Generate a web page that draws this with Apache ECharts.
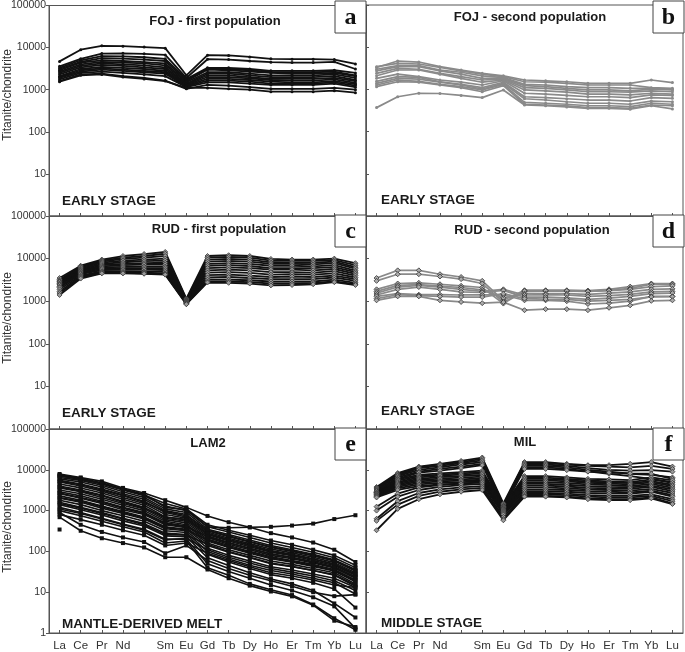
<!DOCTYPE html>
<html>
<head>
<meta charset="utf-8">
<script src="https://cdn.jsdelivr.net/npm/echarts@6/dist/echarts.min.js"></script>
<style>html,body{margin:0;padding:0;background:#fff}#c{width:685px;height:652px}</style>
</head>
<body>
<div id="c"></div>
<script>
const categories = ['La','Ce','Pr','Nd','','Sm','Eu','Gd','Tb','Dy','Ho','Er','Tm','Yb','Lu'];
const yTicks = [1,10,100,1000,10000,100000];

const panelTitles = ['FOJ - first population','FOJ - second population','RUD - first population','RUD - second population','LAM2','MIL'];
const panelLetters = ['a','b','c','d','e','f'];
const stageLabels = ['EARLY STAGE','EARLY STAGE','EARLY STAGE','EARLY STAGE','MANTLE-DERIVED MELT','MIDDLE STAGE'];

const fojFirst = [
 [4700,8900,11000,10800,10300,9700,2200,6600,6500,6000,5400,5300,5300,5200,4100],
 [3600,5400,7200,7300,7100,6700,1900,5300,5200,4800,4500,4400,4400,4600,3100],
 [3300,5000,6300,6200,5900,5400,1800,3300,3300,3100,2800,2800,2800,2900,2500],
 [3100,4600,5600,5500,5200,4800,1700,3100,3100,2900,2600,2600,2600,2700,2200],
 [2900,4400,5000,4800,4500,4200,1600,3000,2900,2700,2500,2400,2400,2500,2100],
 [2700,4000,4600,4400,4200,3800,1500,2600,2600,2400,2200,2200,2200,2300,1900],
 [2500,3700,4200,4000,3800,3400,1400,2400,2400,2200,2000,2000,2000,2100,1700],
 [2300,3400,3900,3700,3400,3100,1350,2200,2200,2000,1800,1800,1800,1900,1600],
 [2100,3100,3500,3300,3100,2800,1300,2000,2000,1850,1700,1650,1650,1750,1450],
 [2000,2900,3200,3000,2800,2600,1250,1800,1800,1700,1550,1500,1500,1600,1350],
 [1900,2700,3000,2800,2600,2400,1200,1650,1650,1550,1400,1400,1400,1500,1250],
 [1750,2500,2700,2500,2300,2100,1150,1500,1500,1400,1300,1300,1300,1400,1150],
 [1600,2300,2400,2100,1900,1650,1050,1300,1250,1150,1050,1050,1050,1100,1000],
 [1550,2200,2300,2000,1800,1600,1100,1100,1050,1000,900,900,900,950,850]
];

const fojSecond = [
 [3300,4700,4450,3450,2880,2400,2100,1670,1600,1520,1390,1390,1390,1670,1450],
 [3450,4150,4000,3300,2750,2300,2000,1520,1480,1390,1270,1270,1270,1100,1060],
 [3000,3650,3650,2880,2550,2100,1900,1320,1270,1160,1100,1100,1060,1060,1000],
 [2750,3450,3450,2750,2300,1830,1830,1230,1160,1060,970,970,920,1020,970],
 [2400,3150,3000,2400,2000,1670,1750,1100,1060,970,880,880,860,920,880],
 [2100,2880,2880,2300,1830,1480,1670,970,920,860,770,770,740,810,770],
 [1830,2300,2000,1670,1480,1270,1600,810,770,720,670,670,640,740,720],
 [1550,2000,1930,1520,1310,1100,1480,670,640,600,560,560,530,640,615],
 [1390,1830,1750,1480,1270,1020,1390,600,560,510,470,470,445,530,510],
 [1270,1670,1550,1310,1160,970,1320,490,470,445,410,410,390,470,445],
 [1160,1520,1480,1270,1100,880,1230,445,427,405,370,370,356,427,410],
 [370,670,810,800,720,640,970,427,410,385,356,356,340,410,345]
];

const rudFirst = [
 [3500,6800,9500,11500,12800,14300,1150,11500,12000,11500,9800,9500,9500,10000,7800],
 [3200,6500,9000,10500,11500,13000,1100,10500,11000,10500,9000,8800,8800,9200,7000],
 [3000,6200,8500,9800,10500,11500,1080,9500,9800,9500,8200,8000,8000,8500,6300],
 [2900,5800,8000,9000,9500,10000,1050,8500,8800,8500,7500,7500,7300,7800,5800],
 [2800,5500,7500,8200,8700,9000,1020,7500,7800,7500,6800,6800,6600,7000,5200],
 [2600,5200,7000,7500,7800,8000,1000,6800,7000,6700,6000,6000,6000,6300,4800],
 [2500,5000,6600,7000,7200,7300,980,6000,6200,6000,5500,5500,5300,5700,4400],
 [2400,4700,6200,6400,6500,6500,960,5300,5500,5300,4800,4800,4700,5100,4000],
 [2200,4500,5800,6000,6000,6000,940,4700,4800,4600,4200,4300,4200,4500,3600],
 [2100,4300,5400,5500,5500,5400,920,4100,4200,4000,3700,3800,3700,4000,3300],
 [1900,4000,5000,5100,5000,4900,900,3600,3700,3500,3300,3300,3300,3600,3000],
 [1700,3800,4800,4800,4700,4500,880,3200,3200,3100,2900,2900,2900,3200,2700],
 [1550,3600,4600,4600,4500,4300,860,2900,2900,2800,2600,2600,2700,2900,2500],
 [1400,3400,4500,4500,4400,4200,850,2750,2700,2600,2350,2400,2500,2800,2400]
];

const rudSecond = [
 [3500,5300,5300,4300,3700,3000,1050,1810,1810,1810,1780,1900,2200,2600,2600],
 [3000,4300,4300,3800,3300,2600,950,1700,1720,1720,1700,1800,2000,2500,2500],
 [1900,2600,2700,2500,2300,2100,880,1750,1760,1750,1700,1780,1900,2200,2300],
 [1700,2350,2450,2250,2100,1850,1200,1500,1500,1500,1450,1550,1650,1900,1950],
 [1550,2150,2350,2150,1900,1700,1900,1400,1420,1400,1300,1350,1450,1650,1700],
 [1400,1900,2150,1900,1650,1600,1800,1250,1250,1200,1100,1180,1300,1500,1550],
 [1300,1500,1420,1420,1400,1400,1400,1050,1050,1000,860,900,1000,1300,1300],
 [1150,1420,1350,1300,1250,1250,1500,1150,1120,1100,1000,1050,1100,1260,1280],
 [1050,1300,1300,1050,960,900,950,615,650,650,615,700,800,1020,1050]
];

const lam2 = [
 [7900,6500,5200,3600,2700,1800,1200,740,520,390,280,220,165,110,55],
 [7500,6200,4800,3400,2500,1200,1050,400,380,390,400,430,480,620,770],
 [7200,5800,4600,3300,2400,1500,1100,450,330,250,185,145,110,80,46],
 [7000,6000,4500,3200,2300,1300,1000,400,300,220,160,125,95,70,40],
 [6500,5500,4200,2900,2100,1100,900,350,260,190,140,110,85,62,36],
 [6000,5000,3800,2600,1900,1000,800,320,230,170,125,100,78,58,33],
 [5500,4500,3400,2400,1700,900,700,300,210,155,115,92,72,53,30],
 [5200,4300,3200,2300,1600,950,750,330,240,175,130,104,80,60,34],
 [5000,4000,3000,2100,1500,800,650,280,195,145,105,85,66,49,28],
 [4500,3600,2700,1900,1350,700,600,260,180,130,96,78,60,45,26],
 [4000,3200,2400,1700,1200,650,550,240,165,120,88,72,56,42,24],
 [3800,3000,2300,1600,1150,700,600,270,190,140,100,82,64,48,27],
 [3600,2900,2100,1500,1100,600,500,220,150,110,80,66,52,39,22],
 [3200,2600,1900,1350,1000,550,450,200,140,100,74,60,48,36,20],
 [2900,2300,1700,1200,900,500,420,180,125,90,66,54,43,33,18],
 [2700,2100,1600,1150,850,480,400,230,160,118,86,70,55,41,23],
 [2600,2000,1500,1050,800,450,380,160,110,80,58,48,38,30,16],
 [2300,1800,1300,950,700,400,350,140,95,70,50,42,34,27,15],
 [2100,1700,1250,900,660,380,340,190,130,95,70,57,45,34,19],
 [2000,1600,1150,850,620,360,320,120,80,58,42,35,28,22,13],
 [1800,1400,1000,750,550,320,290,100,65,46,34,28,22,17,9],
 [1600,1200,900,650,480,280,260,85,55,38,27,22,17,12,4.2],
 [1500,1150,850,620,450,260,250,150,100,72,52,43,34,26,14],
 [1400,1050,780,560,420,240,230,70,45,30,21,16,11,5.3,2.4],
 [1200,900,650,470,350,200,200,50,32,22,15,11,7.5,4.5,1.3],
 [1100,850,620,450,330,190,210,110,72,52,38,31,25,19,11],
 [1000,750,550,400,300,160,180,40,26,16,11.5,8.5,5,2.3,1.2],
 [900,450,300,220,170,90,140,60,38,26,19,14,10,8,8.7],
 [800,600,450,330,250,140,160,90,60,42,30,25,20,15,13],
 [690,320,210,160,125,72,72,36,22,14.5,10.4,7.9,4.8,2.0,1.4],
 [344,null,null,null,null,null,null,null,null,null,null,null,null,null,null]
];

const mil = [
 [3800,8300,12000,14000,16500,20000,1500,15500,15500,14000,13000,13000,14000,15500,12000],
 [3600,7800,11500,13500,15500,18500,1400,14500,14500,13500,12500,12000,11500,12500,10500],
 [3400,7300,11000,12500,14500,17000,1300,13500,13500,12500,11000,10000,9500,9800,9000],
 [3200,7000,10000,11500,13500,15500,1250,12500,12500,11500,10000,9000,8000,7500,6500],
 [3000,6500,9000,10500,12000,14000,1200,11500,11500,10500,9200,8000,7000,6000,5000],
 [2800,6000,8500,9500,11000,13000,1150,10500,10500,9800,9000,8500,8200,8000,6000],
 [3000,5800,7500,8200,8800,9500,1300,7000,7000,6500,6000,5800,5600,6500,5500],
 [2800,5400,7000,7600,8200,8800,1250,6500,6400,6000,5500,5200,5000,5800,4800],
 [2700,5000,6500,7200,7600,8200,1200,6000,6000,5600,5100,4900,4700,5300,4300],
 [2600,4700,6000,6600,7000,7500,1150,5500,5500,5200,4800,4600,4400,4900,4000],
 [2500,4400,5600,6100,6400,6800,1100,5000,5000,4700,4400,4200,4000,4500,3600],
 [2400,4100,5200,5600,5800,6200,1050,4500,4500,4300,4000,3800,3700,4100,3300],
 [2300,3800,4800,5200,5400,5700,1000,4100,4100,3900,3600,3500,3400,3800,3000],
 [2200,3500,4400,4800,5000,5300,950,3700,3700,3500,3300,3200,3100,3400,2700],
 [2100,3200,4000,4400,4600,4900,900,3300,3300,3200,3000,2900,2800,3100,2400],
 [1250,2600,3700,4200,4600,5000,850,3000,3000,2900,2700,2600,2600,2900,2200],
 [1000,2200,3200,3800,4200,4500,800,2700,2700,2600,2400,2300,2300,2500,1900],
 [630,1700,2700,3300,3700,4000,700,2500,2500,2400,2200,2100,2100,2300,1700],
 [560,1400,2300,2900,3300,3600,620,2300,2300,2200,2000,1900,1900,2100,1500],
 [330,1100,1900,2500,2900,3200,580,2200,2200,2100,1900,1800,1800,2000,1450]
];

const panelData = [fojFirst, fojSecond, rudFirst, rudSecond, lam2, mil];

// layout
const colLeft = [49, 366];
const colWidth = 317;
const rowTop = [5, 216, 429];
const rowHeight = [211, 213, 207];

const styles = [
  {color:'#111', symbol:'circle', size:3, fill:'#111', width:1.8},
  {color:'#8a8a8a', symbol:'circle', size:3, fill:'#8a8a8a', width:1.7},
  {color:'#111', symbol:'diamond', size:5, fill:'#999', border:'#333', width:1.8},
  {color:'#8a8a8a', symbol:'diamond', size:5, fill:'#aaa', border:'#333', width:1.7},
  {color:'#111', symbol:'rect', size:4, fill:'#111', width:1.6},
  {color:'#111', symbol:'diamond', size:5, fill:'#999', border:'#333', width:1.8}
];

const grids = [], xAxes = [], yAxes = [], series = [], graphics = [];
for (let p = 0; p < 6; p++) {
  const row = Math.floor(p / 2), col = p % 2;
  grids.push({left: colLeft[col], top: rowTop[row], width: colWidth, height: rowHeight[row],
    show: true, borderColor: '#555', borderWidth: 1, backgroundColor: 'transparent'});
  xAxes.push({type: 'category', gridIndex: p, data: categories, boundaryGap: true,
    axisLine: {show: true, lineStyle: {color: '#555'}},
    axisTick: {show: true, alignWithLabel: true, inside: true, length: 3, lineStyle: {color: '#555'}},
    axisLabel: {show: row === 2, color: '#333', fontSize: 11.5, fontFamily: 'Arial, "Liberation Sans"', margin: 7, interval: 0},
    splitLine: {show: false}});
  yAxes.push({type: 'log', logBase: 10, gridIndex: p, min: yTicks[0], max: yTicks[yTicks.length - 1], splitNumber: 5,
    axisLine: {show: true, lineStyle: {color: '#555'}},
    axisTick: {show: true, inside: col === 1, length: 3, lineStyle: {color: '#555'}},
    axisLabel: {show: col === 0, color: '#333', fontSize: 10.5, fontFamily: 'Arial, "Liberation Sans"', margin: 3,
      formatter: v => (v === 1 && row < 2) ? '' : String(v)},
    splitLine: {show: false}});
  const st = styles[p];
  panelData[p].forEach(line => {
    series.push({type: 'line', xAxisIndex: p, yAxisIndex: p, data: line,
      symbol: st.symbol, symbolSize: st.size, showSymbol: true, connectNulls: false,
      lineStyle: {color: st.color, width: st.width},
      itemStyle: {color: st.fill, borderColor: st.border || st.fill, borderWidth: st.border ? 0.8 : 0},
      silent: true, animation: false, z: 2});
  });
  // letter box
  const bx = col === 0 ? 335 : 653;
  const by = rowTop[row] + (row === 0 ? -4 : -1);
  graphics.push({type: 'rect', shape: {x: bx, y: by, width: 31, height: 32}, style: {fill: '#fff', stroke: '#444', lineWidth: 1}, z: 100});
  graphics.push({type: 'text', x: bx + 15.5, y: by + 17, z: 101,
    style: {text: panelLetters[p], font: 'bold 24px "Liberation Serif", "DejaVu Serif", serif', fill: '#111', textAlign: 'center', textVerticalAlign: 'middle'}});
  // title
  const titleX = [215, 530, 219, 532, 208, 525][p];
  const titleY = [21, 17, 229, 230, 443, 442][p];
  graphics.push({type: 'text', x: titleX, y: titleY, z: 101,
    style: {text: panelTitles[p], font: 'bold 13px Arial, "Liberation Sans", sans-serif', fill: '#1a1a1a', textAlign: 'center', textVerticalAlign: 'middle'}});
  // stage label
  const sx = col === 0 ? 62 : 381;
  const sy = [201, 200, 413, 411, 624, 623][p];
  graphics.push({type: 'text', x: sx, y: sy, z: 101,
    style: {text: stageLabels[p], font: 'bold 13.5px Arial, "Liberation Sans", sans-serif', fill: '#1a1a1a', textAlign: 'left', textVerticalAlign: 'middle'}});
  // y axis name
  if (col === 0) {
    const ny = [95, 318, 527][row];
    graphics.push({type: 'text', x: 8, y: ny, rotation: Math.PI / 2, z: 101,
      style: {text: 'Titanite/chondrite', font: '12px Arial, "Liberation Sans", sans-serif', fill: '#333', textAlign: 'center', textVerticalAlign: 'middle'}});
  }
}

const chart = echarts.init(document.getElementById('c'), null, {renderer: 'canvas'});
chart.setOption({
  animation: false,
  backgroundColor: '#fff',
  grid: grids, xAxis: xAxes, yAxis: yAxes, series: series, graphic: graphics
});
</script>
</body>
</html>
